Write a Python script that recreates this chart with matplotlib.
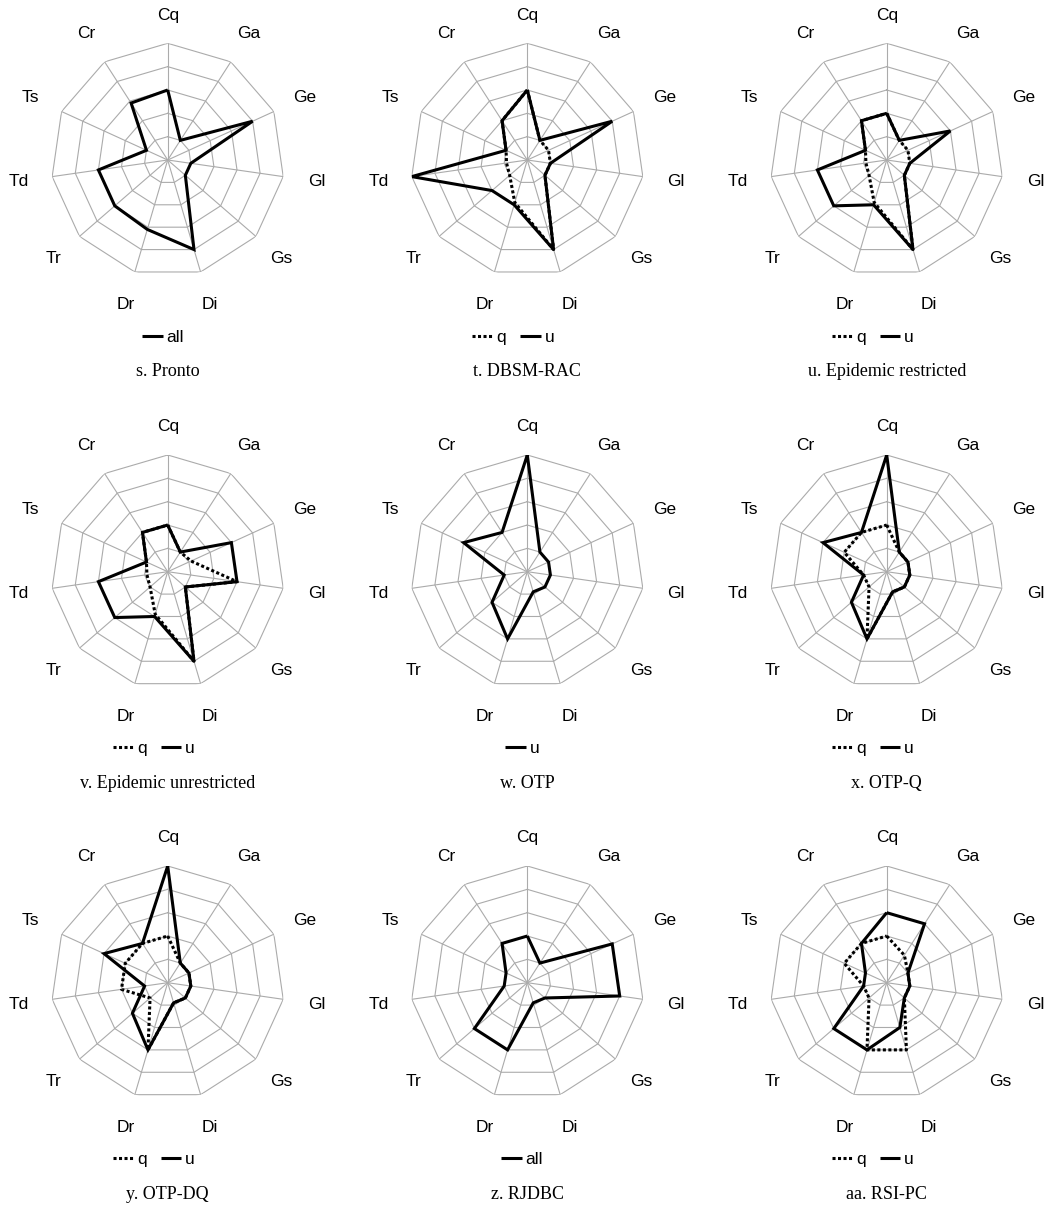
import numpy as np
import matplotlib
matplotlib.use("Agg")
import matplotlib.pyplot as plt
from matplotlib.lines import Line2D

# axis order, clockwise from the top
spokes = ["Cq", "Ga", "Ge", "Gl", "Gs", "Di", "Dr", "Tr", "Td", "Ts", "Cr"]

pronto_all = [3.0, 1.0, 4.0, 1.0, 1.0, 4.0, 3.1, 3.0, 3.0, 1.0, 2.9]
dbsm_q = [3.0, 1.0, 1.0, 1.0, 1.0, 4.0, 1.9, 1.0, 0.9, 1.0, 2.0]
dbsm_u = [3.0, 1.0, 4.0, 1.0, 1.0, 4.0, 2.0, 2.0, 5.0, 1.0, 2.0]
epi_r_q = [2.0, 1.0, 1.0, 1.0, 1.0, 4.0, 1.9, 1.0, 0.9, 1.0, 2.0]
epi_r_u = [2.0, 1.0, 3.0, 1.0, 1.0, 4.0, 2.0, 3.0, 3.0, 1.0, 2.0]
epi_unr_q = [2.0, 1.0, 1.1, 3.0, 1.0, 4.0, 1.9, 1.0, 0.9, 1.0, 2.0]
epi_unr_u = [2.0, 1.0, 3.0, 3.0, 1.0, 4.0, 2.0, 3.0, 3.0, 1.0, 2.0]
otp_u = [5.0, 1.0, 1.0, 1.0, 1.0, 0.9, 3.0, 2.0, 1.0, 3.0, 2.0]
otpq_q = [2.0, 1.0, 1.0, 1.0, 1.0, 0.9, 3.0, 1.0, 1.0, 2.0, 2.0]
otpq_u = [5.0, 1.0, 1.0, 1.0, 1.0, 0.9, 3.0, 2.0, 1.0, 3.0, 2.0]
otpdq_q = [2.0, 1.0, 1.0, 1.0, 1.0, 0.9, 3.0, 1.0, 2.0, 2.0, 2.0]
otpdq_u = [5.0, 1.0, 1.0, 1.0, 1.0, 0.9, 3.0, 2.0, 1.0, 3.0, 2.0]
rjdbc_all = [2.0, 1.0, 4.0, 4.0, 1.0, 0.9, 3.0, 3.0, 1.0, 1.0, 2.0]
rsi_q = [2.0, 1.4, 1.0, 1.0, 1.0, 3.0, 3.0, 1.0, 1.0, 2.0, 2.0]
rsi_u = [3.0, 3.0, 1.0, 1.0, 1.0, 2.0, 3.0, 3.0, 1.0, 1.0, 2.0]

captions = ["s. Pronto", "t. DBSM-RAC", "u. Epidemic restricted",
            "v. Epidemic unrestricted", "w. OTP", "x. OTP-Q",
            "y. OTP-DQ", "z. RJDBC", "aa. RSI-PC"]

panels = [
    {"all": pronto_all},
    {"q": dbsm_q, "u": dbsm_u},
    {"q": epi_r_q, "u": epi_r_u},
    {"q": epi_unr_q, "u": epi_unr_u},
    {"u": otp_u},
    {"q": otpq_q, "u": otpq_u},
    {"q": otpdq_q, "u": otpdq_u},
    {"all": rjdbc_all},
    {"q": rsi_q, "u": rsi_u},
]

W, H = 1046, 1208
col_x = [167.7, 527.3, 886.7]
row_y = [160.0, 571.7, 982.7]
RAD = 116.7  # px, outer ring

sans = ["Liberation Sans", "DejaVu Sans"]
serif = ["Liberation Serif", "DejaVu Serif"]
grid_col = "#ababab"
dotted = (0, (1, 0.8))

fig = plt.figure(figsize=(W / 100, H / 100), dpi=100)

angles = np.arange(len(spokes)) * 2 * np.pi / len(spokes)
closed = np.append(angles, angles[0])

for i, (series, cap) in enumerate(zip(panels, captions)):
    cx = col_x[i % 3]
    cy = row_y[i // 3]
    ax = fig.add_axes([(cx - RAD) / W, 1 - (cy + RAD) / H,
                       2 * RAD / W, 2 * RAD / H], projection="polar")
    ax.set_theta_offset(np.pi / 2)
    ax.set_theta_direction(-1)
    ax.set_ylim(0, 5)
    ax.axis("off")

    # polygon rings and spokes
    for k in range(1, 6):
        ax.plot(closed, [k] * len(closed), color=grid_col, lw=0.8, zorder=1)
    for a in angles:
        ax.plot([a, a], [0, 5], color=grid_col, lw=0.8, zorder=1)

    for j, (a, name) in enumerate(zip(angles, spokes)):
        r = 6.2 if j == 0 else 6.45
        ax.text(a, r, name, ha="center", va="center", fontsize=12.5,
                family=sans)

    handles = []
    for name, vals in series.items():
        v = np.append(vals, vals[0])
        if name == "q":
            ls = dotted
            z = 3
        else:
            ls = "-"
            z = 4
        ax.plot(closed, v, color="black", lw=2.2, ls=ls,
                solid_capstyle="butt", dash_capstyle="butt",
                solid_joinstyle="miter", zorder=z)
        handles.append(Line2D([], [], color="black", lw=2.2, ls=ls,
                              dash_capstyle="butt", solid_capstyle="butt"))

    shift = 14 if len(series) > 1 else 5
    fig.legend(handles, list(series.keys()), loc="center",
               bbox_to_anchor=((cx - shift) / W, 1 - (cy + 177) / H),
               ncol=len(series), frameon=False, handlelength=1.2,
               handletextpad=0.2, columnspacing=0.8,
               prop={"family": sans, "size": 12.5})

    fig.text(cx / W, 1 - (cy + 212) / H, cap, ha="center", va="center",
             fontsize=13, family=serif)

fig.savefig("out.png", dpi=100)
